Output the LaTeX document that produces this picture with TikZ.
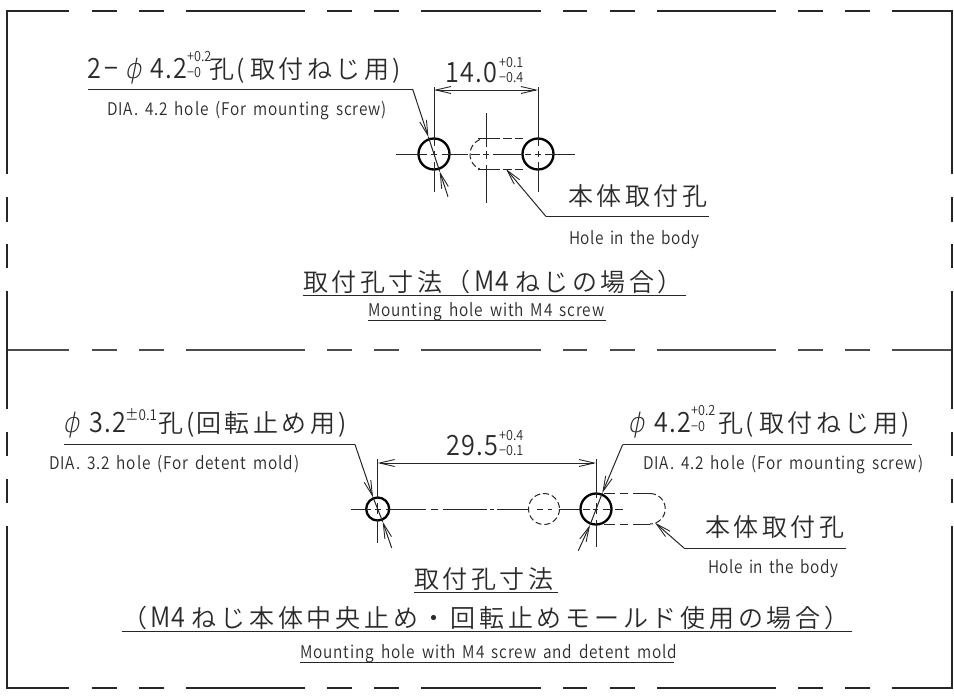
\documentclass[tikz,border=0pt]{standalone}
\usepackage{fontspec}
\usetikzlibrary{arrows.meta}
\newfontfamily\jp{Noto Sans CJK JP DemiLight}
\newfontfamily\lat[FakeStretch=0.88,WordSpace=1.6]{Noto Sans CJK JP DemiLight}
\newfontfamily\latb[FakeStretch=0.9]{Noto Sans CJK JP DemiLight}
\newfontfamily\phif[FakeSlant=0.2]{DejaVu Sans ExtraLight}
\newcommand\Jt[3]{{\jp\fontsize{#1}{#1}\selectfont\addfontfeature{LetterSpace=#2}#3}}
\newcommand\Lt[3]{{\lat\fontsize{#1}{#1}\selectfont\addfontfeature{LetterSpace=#2}#3}}
\newcommand\Lb[3]{{\latb\fontsize{#1}{#1}\selectfont\addfontfeature{LetterSpace=#2}#3}}
\newcommand\Ph{{\phif\fontsize{27}{27}\selectfont ϕ}}
\newcommand\SmallT[1]{\Lt{17.5}{5}{#1}}
\newcommand\HoleT[1]{\Lt{17.5}{3}{#1}}
\newcommand\BigT[1]{\Lb{28}{4}{#1}}
\newcommand\Tol[1]{\Lb{14}{0}{#1}}
\newcommand\JJ[1]{\Jt{25}{14}{#1}}
\definecolor{ink}{HTML}{2A2A2A}
\tikzset{
  lab/.style={anchor=base west,inner sep=0pt,text=ink},
  frameline/.style={line width=1.2pt,color=black!85},
  midline/.style={line width=1.5pt,color=black!70},
  thin/.style={line width=1pt,color=black!85},
  hole/.style={line width=2.3pt,color=black},
  dashhole/.style={line width=1pt,color=black!85,dash pattern=on 6pt off 3pt},
  tip/.style={line width=1pt,color=black!85,-{Straight Barb[length=15pt,width=7pt,line width=0.9pt]}},
}
\begin{document}
\begin{tikzpicture}[x=1pt,y=-1pt,line cap=butt]
\useasboundingbox (0,0) rectangle (954,697);
% frame
\foreach \y/\st in {11/frameline,350/midline,688/frameline}{
  \foreach \a/\b in {92/117,139/164,186/305,327/352,374/399,421/541,563/587,610/635,657/776,798/823,845/870}
    \draw[\st] (\a,\y) -- (\b,\y);
}
\draw[frameline] (69,11) -- (7,11) -- (7,174);
\draw[frameline] (892,11) -- (952,11) -- (952,174);
\draw[frameline] (7,526) -- (7,688) -- (69,688);
\draw[frameline] (952,526) -- (952,688) -- (892,688);
\draw[midline] (7,350) -- (69,350);
\draw[midline] (892,350) -- (952,350);
\foreach \x in {7,952}{
  \foreach \a/\b in {197/222,244/268,291/409,432/456,479/503}
    \draw[frameline] (\x,\a) -- (\x,\b);
}
% ---------- top drawing
\coordinate (hA) at (434,154);
\coordinate (hB) at (538,154);
\coordinate (sC) at (486,154);
\draw[hole] (hA) circle (15.5);
\draw[hole] (hB) circle (15.5);
% slot
\draw[dashhole] (480,139.5) arc[start angle=-112,end angle=-248,radius=16];
\foreach \y in {138.5,169.5}{
  \foreach \a/\b in {478/500,503/512,515/523}
    \draw[thin] (\a,\y) -- (\b,\y);
}
% centre lines
\foreach \a/\b in {396/427,431/437,442/468,471/480,483/489,493/521,525/531,535/541,545/575}
  \draw[thin] (\a,154) -- (\b,154);
\foreach \a/\b in {87/146,151/157,162/192}
  \draw[thin] (434,\a) -- (434,\b);
\foreach \a/\b in {87/146,151/157,162/192}
  \draw[thin] (538,\a) -- (538,\b);
\foreach \a/\b in {113/147,151/159,165/203}
  \draw[thin] (486,\a) -- (486,\b);
% dimension
\draw[tip] (486,90) -- (434,90);
\draw[tip] (486,90) -- (538,90);
% leaders
\coordinate (l1a) at (88,89.3);
\coordinate (l1b) at (412.7,89.3);
\coordinate (l1c) at (448,196.7);
\draw[thin] (l1a) -- (l1b);
\draw[tip] (l1b) -- (428.4,137);
\draw[thin] (428.4,137) -- (439.7,171.5);
\draw[tip] (l1c) -- (439.7,171.5);
\coordinate (l2a) at (709,216.5);
\coordinate (l2b) at (546,216.5);
\draw[thin] (l2a) -- (l2b);
\draw[tip] (l2b) -- (506,169);
% top text
\node[lab] (t1) at (87,78) {\Lb{28}{0}{2}};
\node[lab] (t1m) at (104,78) {\Lb{28}{0}{−}};
\node[lab] (t1p) at (124,78) {\Ph};
\node[lab] (t1n) at (150,78) {\BigT{4.2}};
\node[lab] (t1u) at (187,61.5) {\Tol{+0.2}};
\node[lab] (t1l) at (187,77) {\Tol{−0}};
\node[lab] (t1j) at (209,78) {\JJ{孔}};
\node[lab] (t1k) at (236,78) {\JJ{(}};
\node[lab] (t1q) at (250,78) {\JJ{取付ねじ用}};
\node[lab] (t1r) at (392,78) {\JJ{)}};
\node[lab] (t2) at (107,115) {\SmallT{DIA. 4.2 hole (For mounting screw)}};
\node[lab] (t3) at (445,82) {\BigT{14.0}};
\node[lab] (t3u) at (499,67.5) {\Tol{+0.1}};
\node[lab] (t3l) at (499,82) {\Tol{−0.4}};
\node[lab] (t4) at (568,205) {\JJ{本体取付孔}};
\node[lab] (t5) at (569,244) {\HoleT{Hole in the body}};
\node[lab] (t6a) at (303,291) {\JJ{取付孔寸法（}};
\node[lab] (t6b) at (474,291) {\Lb{28}{2}{M4}};
\node[lab] (t6c) at (515,291) {\JJ{ねじの場合）}};
\draw[thin] (303,295) -- (686,295);
\node[lab] (t7) at (368,316) {\SmallT{Mounting hole with M4 screw}};
\draw[thin] (368,320) -- (606,320);
% ---------- bottom drawing
\coordinate (hC) at (377.7,509);
\coordinate (hD) at (596,509);
\coordinate (hE) at (544,509);
\draw[hole] (hC) circle (11.5);
\draw[hole] (hD) circle (15.5);
\draw[dashhole] (hE) circle (15.5);
\foreach \y in {493.5,524}{
  \foreach \a/\b in {604/615,620/628,633/650}
    \draw[thin] (\a,\y) -- (\b,\y);
}
\draw[dashhole] (650,493.5) arc[start angle=-90,end angle=90,radius=15.25];
\foreach \a/\b in {351/371,375/381,386/426,431/438,443/487,490/494,497/528,537/543,548/552,560/580,583/590,593/598,603/610,615/623}
  \draw[thin] (\a,509) -- (\b,509);
\foreach \a/\b in {459/498,503/514,520/543}
  \draw[thin] (377.7,\a) -- (377.7,\b);
\foreach \a/\b in {459/498,503/514,520/547}
  \draw[thin] (596,\a) -- (596,\b);
\draw[tip] (486,463) -- (377.7,463);
\draw[tip] (486,463) -- (596,463);
% leaders
\coordinate (l3a) at (64,444.5);
\coordinate (l3b) at (355,444.5);
\coordinate (l3c) at (391.7,548);
\draw[thin] (l3a) -- (l3b);
\draw[tip] (l3b) -- (373,497.3);
\draw[thin] (373,497.3) -- (382.7,521.7);
\draw[tip] (l3c) -- (382.7,521.7);
\coordinate (l4a) at (912,444.5);
\coordinate (l4b) at (622.7,444.5);
\coordinate (l4c) at (578.3,550.7);
\draw[thin] (l4a) -- (l4b);
\draw[tip] (l4b) -- (602.3,493);
\draw[thin] (602.3,493) -- (590,525);
\draw[tip] (l4c) -- (590,525);
\coordinate (l5a) at (846,548);
\coordinate (l5b) at (684,548);
\draw[thin] (l5a) -- (l5b);
\draw[tip] (l5b) -- (655,522.7);
% bottom text
\node[lab] (b1p) at (62,432) {\Ph};
\node[lab] (b1n) at (89,432) {\BigT{3.2}};
\node[lab] (b1u) at (125,420) {\Lb{15}{0}{±0.1}};
\node[lab] (b1j) at (158,432) {\JJ{孔}};
\node[lab] (b1k) at (186,432) {\JJ{(}};
\node[lab] (b1q) at (196,432) {\JJ{回転止め用}};
\node[lab] (b1r) at (338,432) {\JJ{)}};
\node[lab] (b2) at (49,469) {\SmallT{DIA. 3.2 hole (For detent mold)}};
\node[lab] (b3) at (446,455) {\BigT{29.5}};
\node[lab] (b3u) at (499,440) {\Tol{+0.4}};
\node[lab] (b3l) at (499,455) {\Tol{−0.1}};
\node[lab] (b4p) at (627,432) {\Ph};
\node[lab] (b4n) at (654,432) {\BigT{4.2}};
\node[lab] (b4u) at (691,415.5) {\Tol{+0.2}};
\node[lab] (b4l) at (691,431) {\Tol{−0}};
\node[lab] (b4j) at (718,432) {\JJ{孔}};
\node[lab] (b4k) at (745,432) {\JJ{(}};
\node[lab] (b4q) at (759,432) {\JJ{取付ねじ用}};
\node[lab] (b4r) at (901,432) {\JJ{)}};
\node[lab] (b5) at (643,469) {\SmallT{DIA. 4.2 hole (For mounting screw)}};
\node[lab] (b6) at (705,536) {\JJ{本体取付孔}};
\node[lab] (b7) at (708,573) {\HoleT{Hole in the body}};
\node[lab] (b8) at (414,588) {\JJ{取付孔寸法}};
\draw[thin] (414,592) -- (558,592);
\node[lab] (b9a) at (122,627) {\Jt{25}{15}{（}};
\node[lab] (b9b) at (150.75,627) {\Lb{28}{2}{M4}};
\node[lab] (b9c) at (191.75,627) {\Jt{25}{15}{ねじ本体中央止め・回転止めモールド使用の場合）}};
\draw[thin] (122,631) -- (852,631);
\node[lab] (b10) at (300,658) {\SmallT{Mounting hole with M4 screw and detent mold}};
\draw[thin] (300,662) -- (674,662);
\end{tikzpicture}
\end{document}
